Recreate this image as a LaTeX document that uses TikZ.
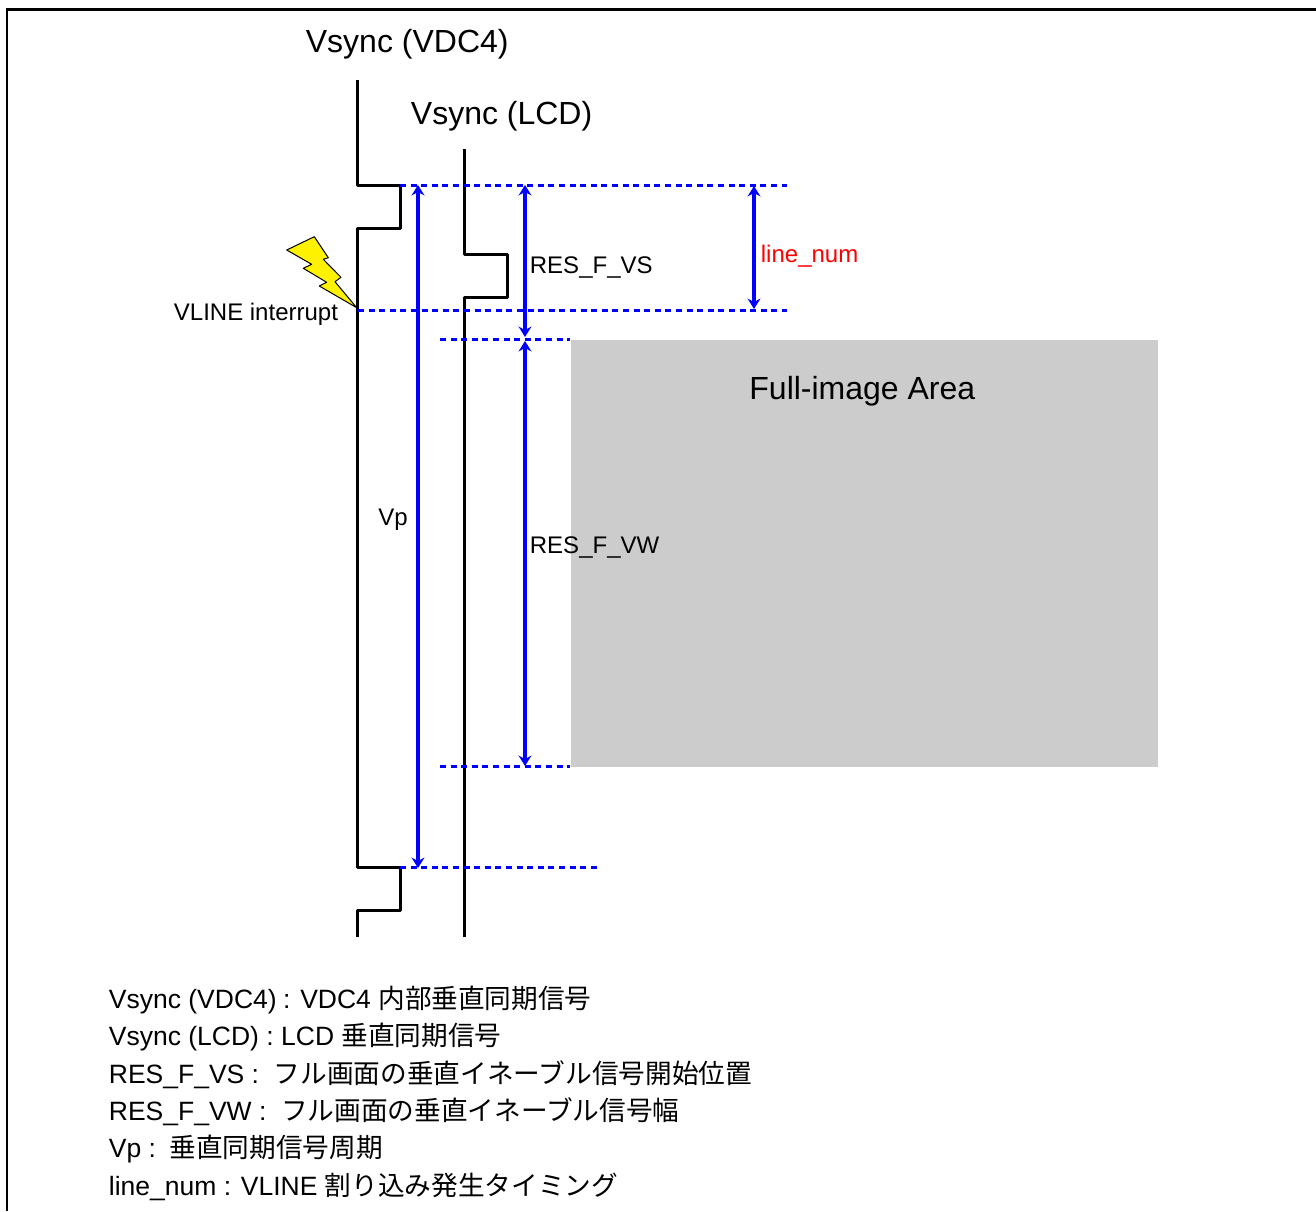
\documentclass[tikz,border=0pt]{standalone}
\usepackage{fontspec}
\usepackage{xcolor}
\setmainfont{Liberation Sans}
\newfontfamily\jpfont[Scale=1.006]{Noto Sans CJK JP}
\usetikzlibrary{arrows.meta}

\tikzset{
 wave/.style={line width=1.5pt,line join=round},
 guide/.style={blue,line width=1.3pt,dash pattern=on 3pt off 2.3pt},
 span/.style={blue,line width=1.6pt,{Stealth[length=5.2pt,width=6.4pt]}-{Stealth[length=5.2pt,width=6.4pt]}},
 big/.style={font=\fontsize{16}{18}\selectfont,anchor=base west,inner sep=0pt},
 small/.style={font=\fontsize{12}{14}\selectfont,anchor=base west,inner sep=0pt},
 legend/.style={font=\fontsize{13.25}{15}\selectfont,anchor=base west,inner sep=0pt}
}

\begin{document}
\begin{tikzpicture}[x=0.5pt,y=-0.5pt]
 \useasboundingbox (0,0) rectangle (1316,1211);

 \coordinate (f1) at (7,1211);
 \coordinate (f2) at (7,9.5);
 \coordinate (f3) at (1316,9.5);

 % VDC4 signal
 \coordinate (a1) at (357,80);
 \coordinate (a2) at (357,185.5);
 \coordinate (a3) at (400,185.5);
 \coordinate (a4) at (400,228.5);
 \coordinate (a5) at (357,228.5);
 \coordinate (a6) at (357,867.5);
 \coordinate (a7) at (400,867.5);
 \coordinate (a8) at (400,910.5);
 \coordinate (a9) at (357,910.5);
 \coordinate (a10) at (357,937);

 % LCD signal
 \coordinate (b1) at (464,149);
 \coordinate (b2) at (464,254.5);
 \coordinate (b3) at (507,254.5);
 \coordinate (b4) at (507,297.5);
 \coordinate (b5) at (464,297.5);
 \coordinate (b6) at (464,937);

 % dotted levels
 \coordinate (g1) at (400,185.5);
 \coordinate (g2) at (787,185.5);
 \coordinate (g3) at (358,310.5);
 \coordinate (g4) at (787,310.5);
 \coordinate (g5) at (440,339.5);
 \coordinate (g6) at (570,339.5);
 \coordinate (g7) at (440,766.5);
 \coordinate (g8) at (570,766.5);
 \coordinate (g9) at (400,867.5);
 \coordinate (g10) at (598,867.5);

 % arrows
 \coordinate (p1) at (418,185);
 \coordinate (p2) at (418,868);
 \coordinate (s1) at (525,185);
 \coordinate (s2) at (525,337);
 \coordinate (w1) at (525,341);
 \coordinate (w2) at (525,766);
 \coordinate (n1) at (754,186);
 \coordinate (n2) at (754,309);

 \fill[black!20] (571,340) rectangle (1158,767);
 \node[big] (fullarea) at (749,399) {Full-image Area};

 \draw[line width=1.3pt] (f1)--(f2)--(f3);

 \draw[wave] (a1)--(a2)--(a3)--(a4)--(a5)--(a6)--(a7)--(a8)--(a9)--(a10);
 \draw[wave] (b1)--(b2)--(b3)--(b4)--(b5)--(b6);

 \draw[guide] (g1)--(g2);
 \draw[guide] (g3)--(g4);
 \draw[guide] (g5)--(g6);
 \draw[guide] (g7)--(g8);
 \draw[guide] (g9)--(g10);

 \draw[span] (p1)--(p2);
 \draw[span] (s1)--(s2);
 \draw[span] (w1)--(w2);
 \draw[span] (n1)--(n2);

 % interrupt bolt
 \draw[fill=yellow,line width=0.5pt,line join=round] (286.7,250)--(314.3,236.7)--(328.3,257.7)--(323.3,259.3)--(341,277.3)--(335,281.7)--(356.7,307.7)--(319.3,286)--(326.7,282.3)--(303.3,268.3)--(311.7,264.3)--cycle;

 \node[big] (vdc) at (305.5,52) {Vsync (VDC4)};
 \node[big] (lcd) at (410.5,124) {Vsync (LCD)};
 \node[small] (vline) at (173.5,320) {VLINE interrupt};
 \node[small] (vp) at (378,525) {Vp};
 \node[small] (vs) at (529.5,273) {RES\_F\_VS};
 \node[small] (vw) at (529.5,553) {RES\_F\_VW};
 \node[small,red] (num) at (760.5,262) {line\_num};

 \node[legend] (t1) at (108.5,1008) {Vsync (VDC4)\hspace{-0.5pt} : VDC4 {\jpfont 内部垂直同期信号}};
 \node[legend] (t2) at (108.5,1045) {Vsync (LCD) : LCD {\jpfont 垂直同期信号}};
 \node[legend] (t3) at (108.5,1083) {RES\_F\_VS :\ \ {\jpfont フル画面の垂直イネーブル信号開始位置}};
 \node[legend] (t4) at (108.5,1120) {RES\_F\_VW :\ \ {\jpfont フル画面の垂直イネーブル信号幅}};
 \node[legend] (t5) at (108.5,1157) {Vp :\ \hspace{3pt}{\jpfont 垂直同期信号周期}};
 \node[legend] (t6) at (108.5,1195) {line\_num : VLINE {\jpfont 割り込み発生タイミング}};

\end{tikzpicture}
\end{document}
